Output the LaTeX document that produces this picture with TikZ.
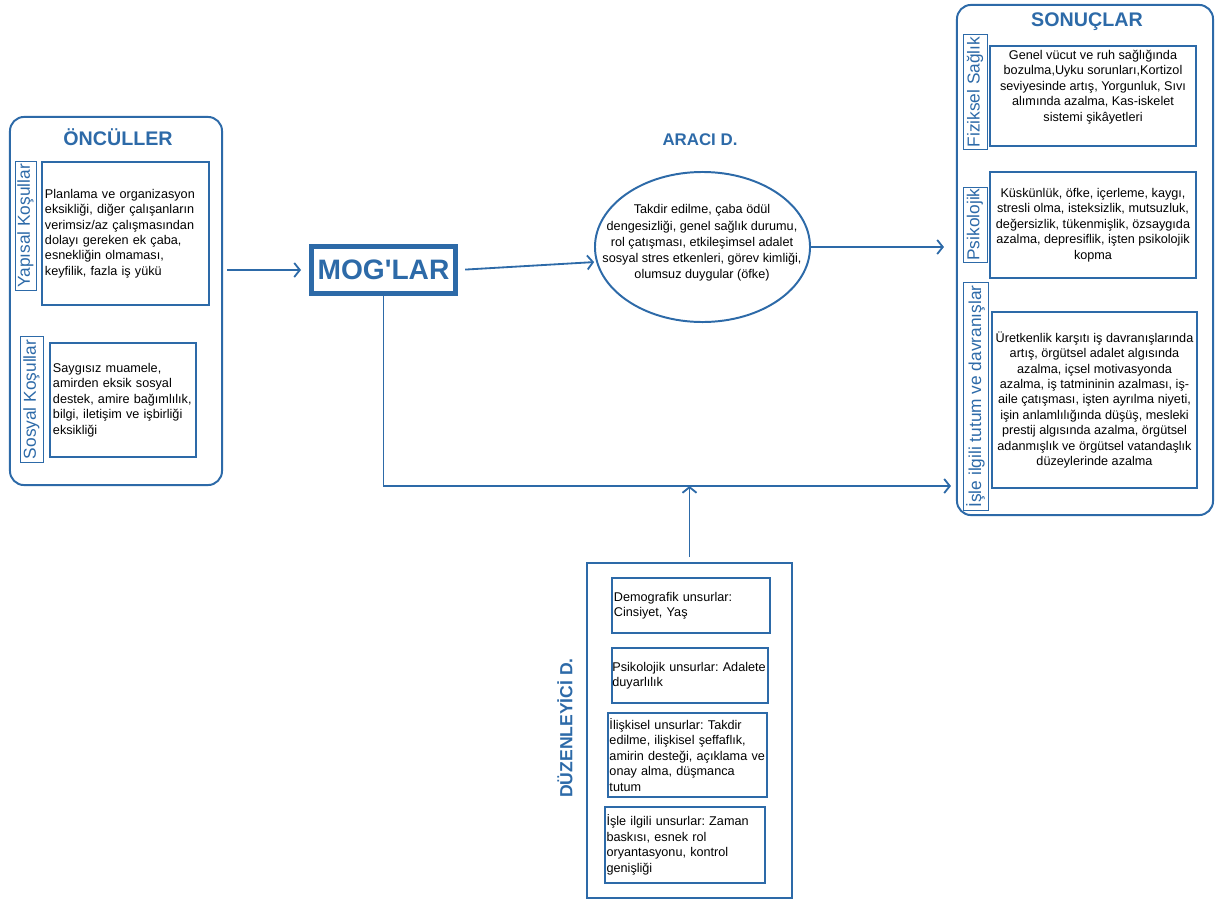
\documentclass[tikz,border=0pt]{standalone}
\usepackage{fontspec}
\setmainfont{Liberation Sans}
\usetikzlibrary{arrows.meta,
                shapes.geometric
            }
\definecolor{mogblue}{RGB}{45,106,168}
\frenchspacing

\begin{document}
\begin{tikzpicture}[x=0.025cm, y=-0.025cm,
        panel/.style={draw=mogblue, line width=1.4pt, rounded corners=10pt},
        sidelbl/.style={draw=mogblue, line width=0.7pt, rotate=90, text=mogblue,
                        font=\fontsize{12.3}{14}\selectfont, inner sep=0.5pt},
        itembox/.style={draw=mogblue, line width=1.4pt, align=left, inner sep=0.075cm,
                        font=\fontsize{9}{11}\selectfont},
        resbox/.style={draw=mogblue, line width=1.4pt, align=center, inner sep=0pt,
                       font=\fontsize{9}{11}\selectfont},
        ttl/.style={text=mogblue, font=\bfseries\fontsize{14}{16}\selectfont},
        conn/.style={draw=mogblue, line width=1.3pt, -{Straight Barb[length=4pt,width=10pt]}}
    ]
    \useasboundingbox (0,0) rectangle (1215,901);

    % oncul kosullar
    \node[panel, minimum width=5.3cm, minimum height=9.2cm] (onc) at (116, 301) {};
    \node[ttl] (onctitle) at (118, 137) {ÖNCÜLLER};
    \node[sidelbl, minimum width=3.2cm, minimum height=0.525cm] (yapLbl) at (25.5, 226) {Yapısal Koşullar};
    \node[itembox, text width=4.025cm, minimum height=3.575cm] (yap) at (125.5, 233.5)
        {Planlama ve organizasyon\\ eksikliği, diğer çalışanların\\ verimsiz/az çalışmasından\\
         dolayı gereken ek çaba,\\ esnekliğin olmaması,\\ keyfilik, fazla iş yükü};
    \node[sidelbl, minimum width=3.125cm, minimum height=0.575cm] (sosLbl) at (31.5, 399.5) {Sosyal Koşullar};
    \node[itembox, text width=3.5cm, minimum height=2.85cm] (sos) at (123, 400)
        {Saygısız muamele,\\ amirden eksik sosyal\\ destek, amire bağımlılık,\\
         bilgi, iletişim ve işbirliği\\ eksikliği};

    % mog
    \node[draw=mogblue, line width=3.5pt, minimum width=3.6cm, minimum height=1.175cm, text=mogblue,
          font=\bfseries\fontsize{20}{22}\selectfont] (mog) at (383.5, 270) {MOG\textquotesingle LAR};

    % araci
    \node[ttl, font=\bfseries\fontsize{12}{14}\selectfont] (aracititle) at (700, 140) {ARACI D.};
    \node[draw=mogblue, line width=1.4pt, ellipse, minimum width=5.375cm, minimum height=3.75cm] (ell) at (702.5, 247) {};
    \node[align=center, font=\fontsize{9}{11.5}\selectfont] (ellText) at (702, 243)
        {Takdir edilme, çaba ödül\\ dengesizliği, genel sağlık durumu,\\ rol çatışması, etkileşimsel adalet\\
         sosyal stres etkenleri, görev kimliği,\\ olumsuz duygular (öfke)};

    % sonuclar
    \node[panel, minimum width=6.4cm, minimum height=12.75cm] (res) at (1085, 260) {};
    \node[ttl] (restitle) at (1087, 22) {SONUÇLAR};
    \node[sidelbl, minimum width=2.85cm, minimum height=0.6cm] (fizLbl) at (975, 92) {Fiziksel Sağlık};
    \node[resbox, minimum width=5.15cm, minimum height=2.5cm] (fiz) at (1093, 96)
        {Genel vücut ve ruh sağlığında\\ bozulma,Uyku sorunları,Kortizol\\ seviyesinde artış, Yorgunluk, Sıvı\\
         alımında azalma, Kas-iskelet\\ sistemi şikâyetleri\\[4pt]};
    \node[sidelbl, minimum width=1.875cm, minimum height=0.6cm] (psiLbl) at (975, 224.5) {Psikolojik};
    \node[resbox, minimum width=5.15cm, minimum height=2.65cm] (psi) at (1093, 225)
        {Küskünlük, öfke, içerleme, kaygı,\\ stresli olma, isteksizlik, mutsuzluk,\\ değersizlik, tükenmişlik, özsaygıda\\
         azalma, depresiflik, işten psikolojik\\ kopma};
    \node[sidelbl, minimum width=5.675cm, minimum height=0.625cm] (isLbl) at (975.5, 396.5) {İşle ilgili tutum ve davranışlar};
    \node[resbox, minimum width=5.125cm, minimum height=4.4cm] (is) at (1094.5, 400)
        {Üretkenlik karşıtı iş davranışlarında\\ artış, örgütsel adalet algısında\\ azalma, içsel motivasyonda\\
         azalma, iş tatmininin azalması, iş-\\ aile çatışması, işten ayrılma niyeti,\\
         işin anlamlılığında düşüş, mesleki\\ prestij algısında azalma, örgütsel\\
         adanmışlık ve örgütsel vatandaşlık\\ düzeylerinde azalma};

    % duzenleyici
    \node[draw=mogblue, line width=1.4pt, minimum width=5.125cm, minimum height=8.375cm] (mod) at (689.5, 730.5) {};
    \node[ttl, rotate=90, font=\bfseries\fontsize{12.5}{14}\selectfont] (modtitle) at (565, 728) {DÜZENLEYİCİ D.};
    \node[itembox, inner sep=0.04cm, text width=3.85cm, minimum height=1.375cm] (dem) at (691, 605.5)
        {Demografik unsurlar:\\ Cinsiyet, Yaş};
    \node[itembox, inner sep=0.02cm, text width=3.88cm, minimum height=1.375cm] (psiu) at (690, 675.5)
        {Psikolojik unsurlar: Adalete\\ duyarlılık};
    \node[itembox, inner sep=0.04cm, text width=3.9cm, minimum height=2.1cm] (ilis) at (687.5, 755)
        {İlişkisel unsurlar: Takdir\\ edilme, ilişkisel şeffaflık,\\ amirin desteği, açıklama ve\\
         onay alma, düşmanca\\ tutum};
    \node[itembox, inner sep=0.04cm, text width=3.92cm, minimum height=1.9cm] (isu) at (685, 845)
        {İşle ilgili unsurlar: Zaman\\ baskısı, esnek rol\\ oryantasyonu, kontrol\\ genişliği};

    % baglantilar
    \coordinate (junc) at (689.5, 486);
    \draw[conn, shorten <=0.1cm, shorten >=0.2cm] (onc.east |- mog.west) -- (mog.west);
    \draw[conn, shorten <=0.18cm, shorten >=0.05cm] (mog.east) -- (ell.188);
    \draw[conn, shorten >=0.3cm] (ell.east) -- (ell.east -| res.west);
    \draw[conn, shorten >=0.125cm] (mog.south) |- (junc -| res.west);
    \draw[conn, shorten <=0.12cm] (mod.north) -- (junc);
\end{tikzpicture}
\end{document}
